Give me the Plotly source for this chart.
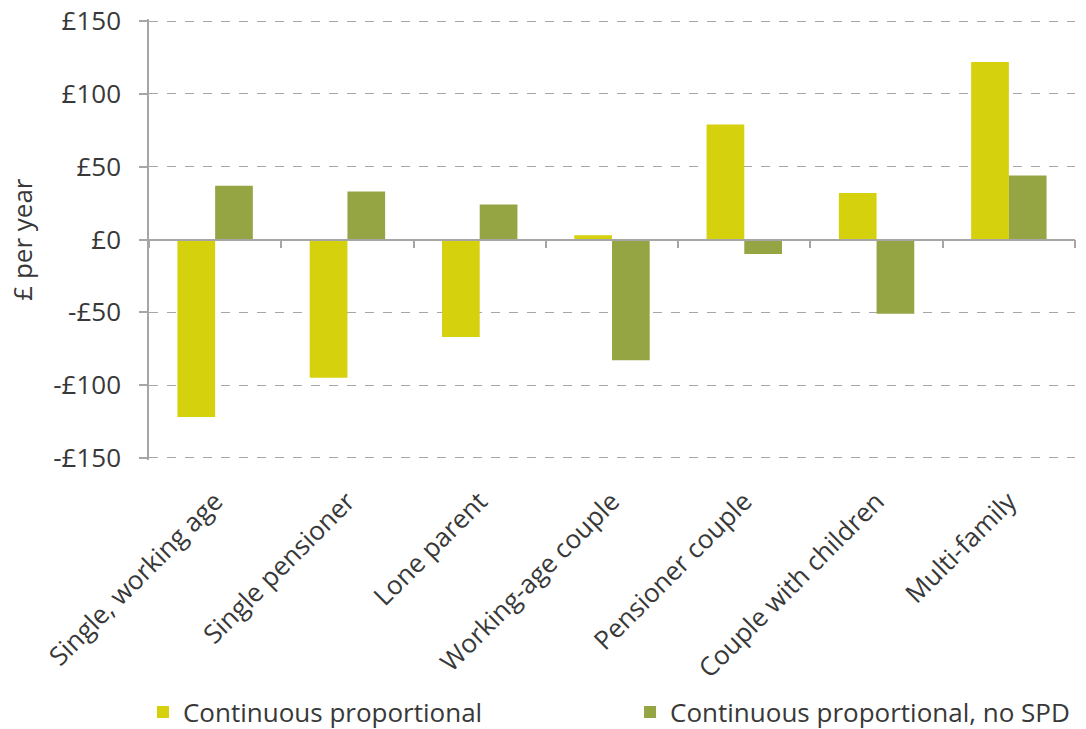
import plotly.graph_objects as go

categories = ["Single, working age", "Single pensioner", "Lone parent", "Working-age couple",
              "Pensioner couple", "Couple with children", "Multi-family"]
continuous_prop = [-122, -95, -67, 3, 79, 32, 122]
continuous_prop_no_spd = [37, 33, 24, -83, -10, -51, 44]
series_names = ["Continuous proportional", "Continuous proportional, no SPD"]
y_tickvals = [-150, -100, -50, 0, 50, 100, 150]
y_ticktext = ["-£150", "-£100", "-£50", "£0", "£50", "£100", "£150"]
y_title = "£ per year"

YELLOW = "#D5D10D"
GREEN = "#95A543"
GRID = "#A6A6A6"
TXT = "#383838"
FONT = "Open Sans"
FS = 26

fig = go.Figure()
fig.add_trace(go.Bar(x=categories, y=continuous_prop, name=series_names[0], legend="legend",
                     marker=dict(color=YELLOW, line=dict(width=0))))
fig.add_trace(go.Bar(x=categories, y=continuous_prop_no_spd, name=series_names[1], legend="legend2",
                     marker=dict(color=GREEN, line=dict(width=0))))
# helper trace registering categories on the zero-line axis
fig.add_trace(go.Scatter(x=categories, y=[None] * len(categories), xaxis="x2", yaxis="y",
                         showlegend=False, hoverinfo="skip", mode="markers"))

leg_common = dict(orientation="h", xanchor="left", yref="container", y=0.0236, yanchor="middle",
                  font=dict(size=FS, color=TXT), bgcolor="rgba(0,0,0,0)")

fig.update_layout(
    width=1078, height=721,
    margin=dict(l=141, r=11, t=11, b=269, autoexpand=False),
    paper_bgcolor="white", plot_bgcolor="white",
    font=dict(family=FONT, size=FS, color=TXT),
    barmode="group", bargap=0.43, bargroupgap=0,
    xaxis=dict(
        type="category", categoryorder="array", categoryarray=categories,
        showline=False, showgrid=False, zeroline=False, automargin=False,
        tickangle=-45, ticks="", ticklabelstandoff=20, tickfont=dict(size=FS, color=TXT),
    ),
    xaxis2=dict(
        type="category", categoryorder="array", categoryarray=categories,
        overlaying="x", matches="x", anchor="free", position=0.5,
        showline=True, linecolor=GRID, linewidth=1.5,
        ticks="outside", ticklen=8, tickcolor=GRID, tickwidth=1.5, tickson="boundaries",
        showticklabels=False, showgrid=False, zeroline=False,
    ),
    yaxis=dict(
        range=[-151.5, 151.5], tickvals=y_tickvals, ticktext=y_ticktext, automargin=False,
        showline=True, linecolor=GRID, linewidth=1.5,
        ticks="outside", ticklen=8, tickcolor=GRID, tickwidth=1.5, ticklabelstandoff=13,
        ticklabeloverflow="allow",
        showgrid=True, gridcolor=GRID, griddash="dash", gridwidth=1,
        zeroline=True, zerolinecolor=GRID, zerolinewidth=1.5,
        tickfont=dict(size=FS, color=TXT),
    ),
    annotations=[dict(text=y_title, xref="paper", yref="paper", x=-0.138, y=0.5,
                      xanchor="center", yanchor="middle", textangle=-90, showarrow=False,
                      font=dict(size=FS, color=TXT))],
    legend=dict(x=-0.0065, **leg_common),
    legend2=dict(x=0.5195, **leg_common),
)

fig.write_html("out.html")
